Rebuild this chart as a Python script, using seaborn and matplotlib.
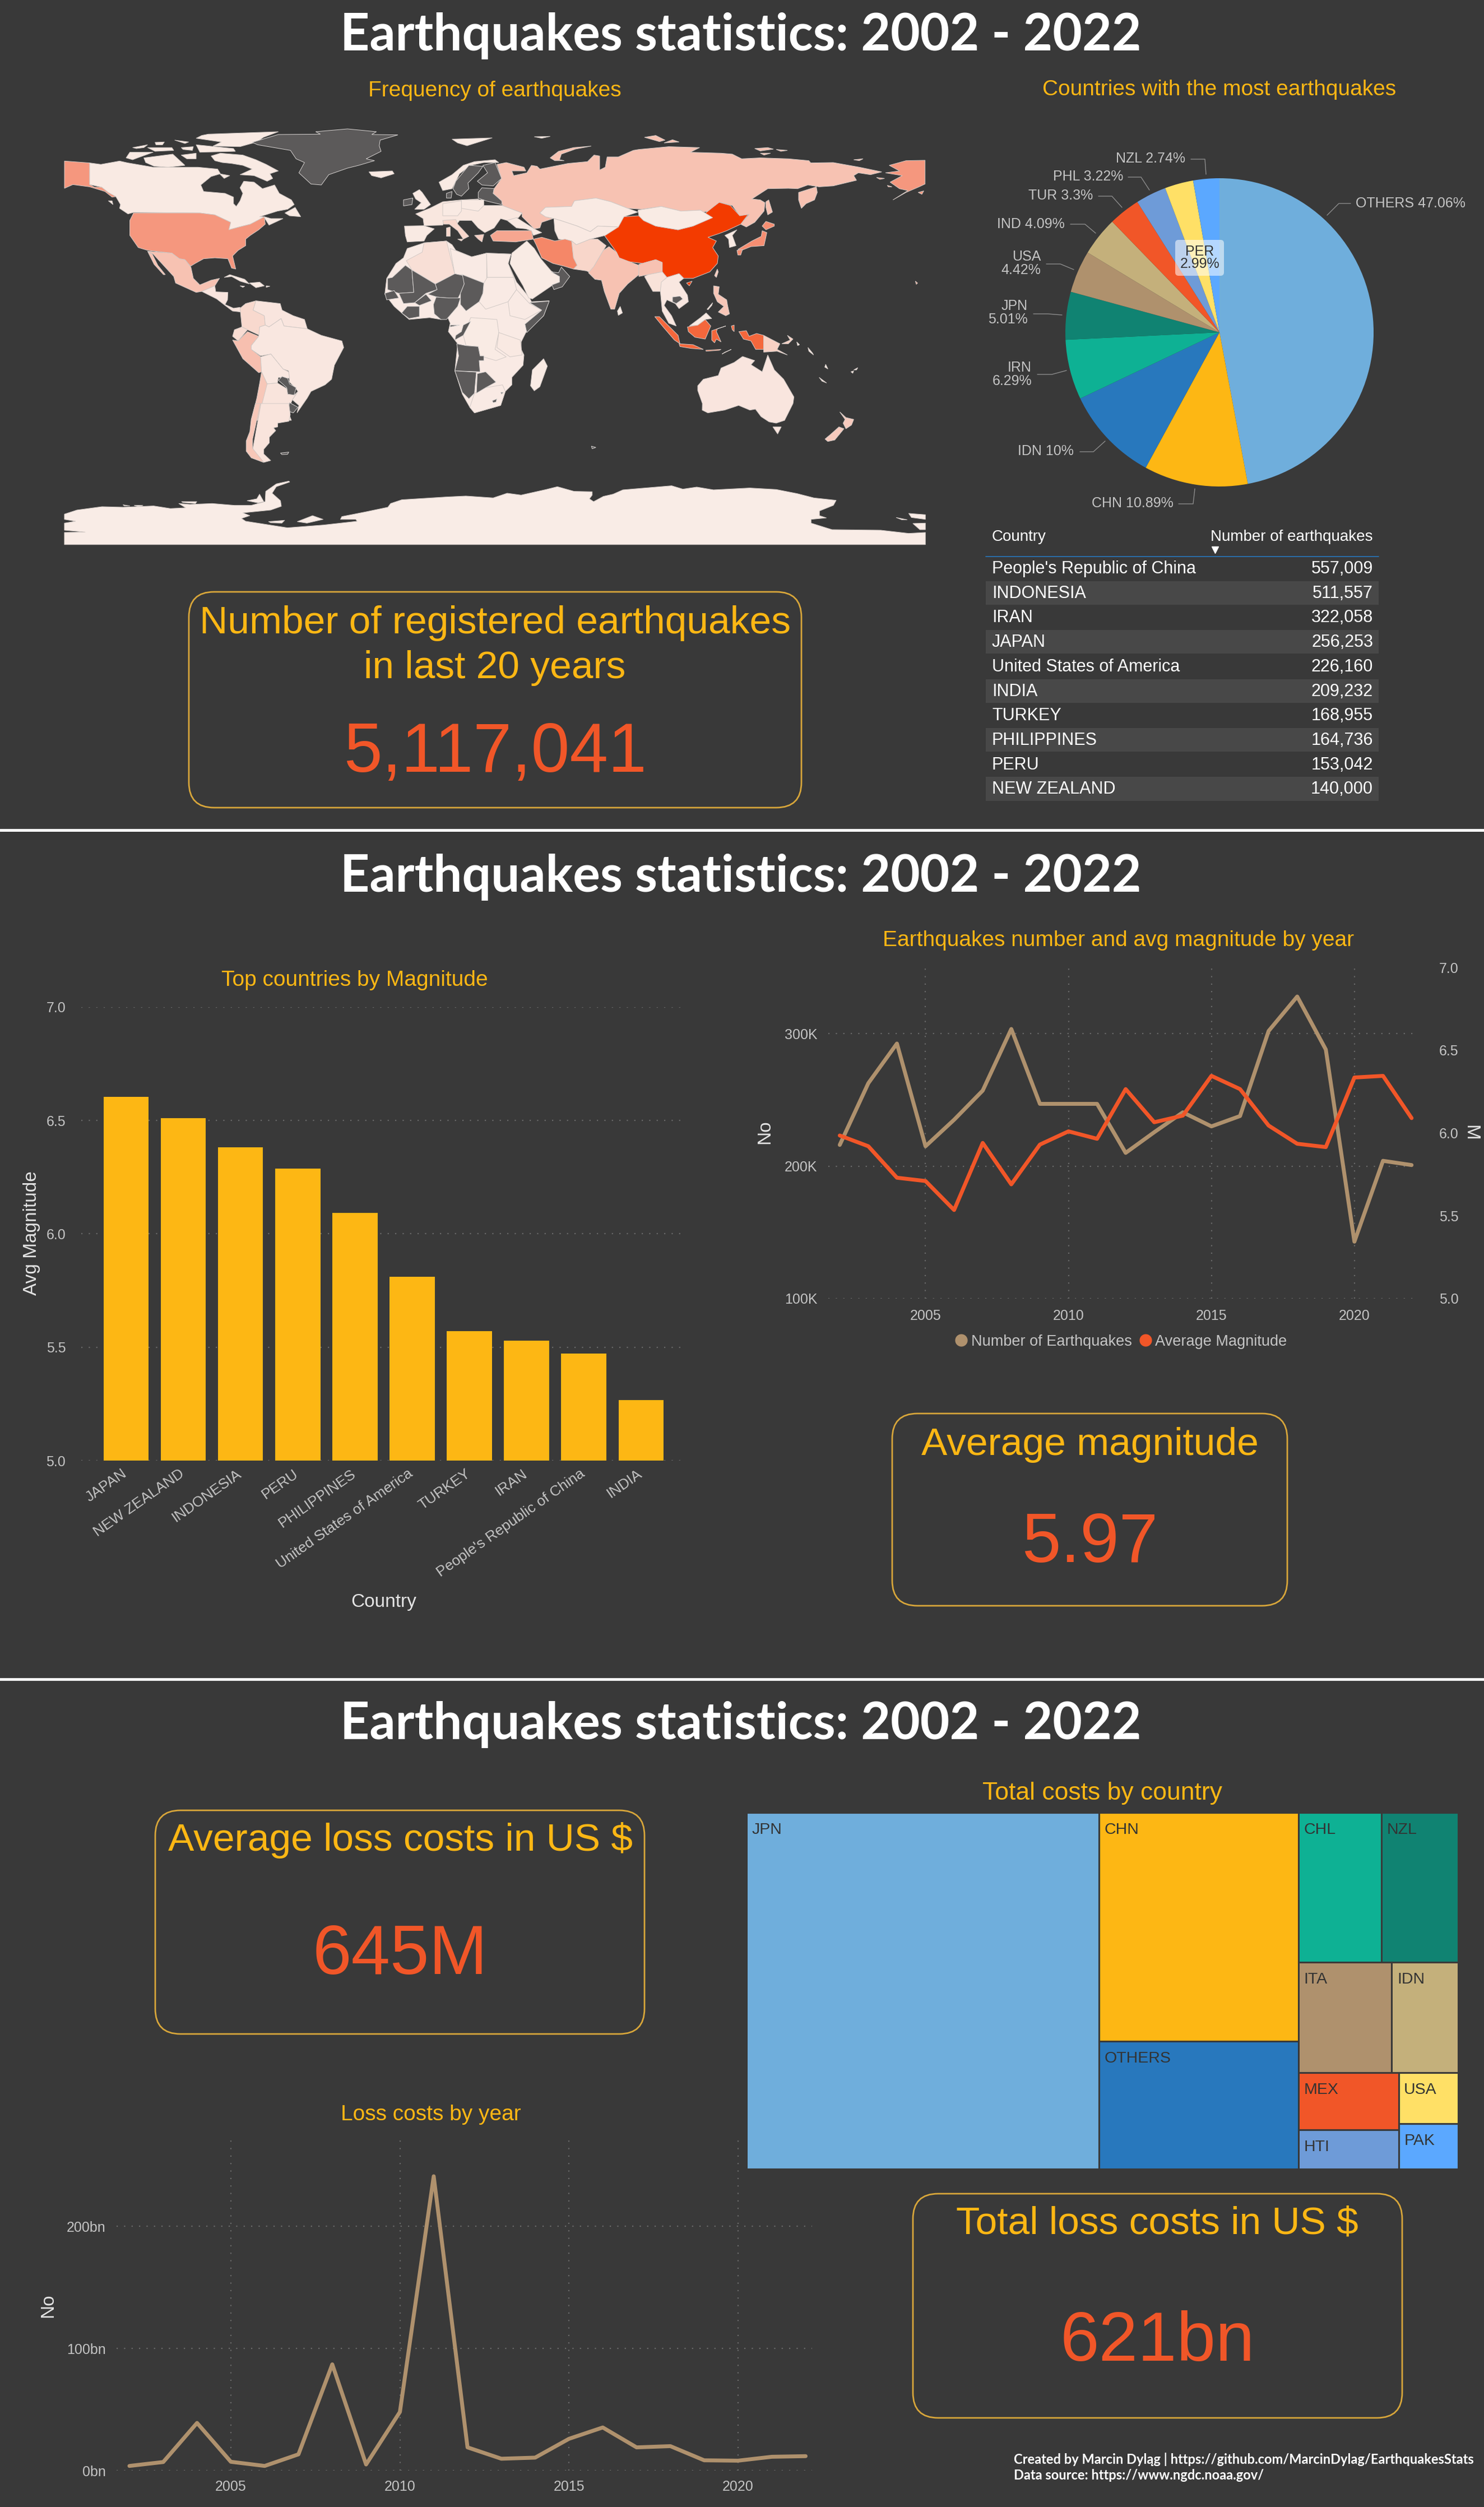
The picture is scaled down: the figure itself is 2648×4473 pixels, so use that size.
import matplotlib
matplotlib.use("Agg")
import matplotlib.pyplot as plt
from matplotlib.colors import Normalize
from matplotlib.lines import Line2D
from matplotlib.patches import FancyBboxPatch, Rectangle
from matplotlib.transforms import ScaledTranslation
import pandas as pd
import seaborn as sns

W, H = 2648, 4473
BG = "#393939"
YELLOW = "#FDB714"
ORANGE = "#F15628"
TAN = "#AF916D"
TICK = "#c4c4c4"

# --- data ---
years = list(range(2002, 2023))
quake_counts = [216000, 262600, 292500, 215000, 235000, 257000, 303500, 247000, 247000, 247000, 210000,
                225600, 240600, 230000, 237800, 302000, 328000, 288000, 143000, 204000, 200800]
avg_magnitude = [5.985, 5.92, 5.73, 5.71, 5.535, 5.94, 5.69, 5.93, 6.01, 5.965, 6.265,
                 6.065, 6.105, 6.345, 6.265, 6.045, 5.935, 5.915, 6.335, 6.345, 6.09]
loss_bn = [3.8, 7, 39, 7.2, 3.8, 13.3, 87, 5, 48, 241, 19, 9.7, 10.6, 26, 35.3, 19, 20, 8.4, 8.1, 11.3, 11.8]

mag_countries = ["JAPAN", "NEW ZEALAND", "INDONESIA", "PERU", "PHILIPPINES", "United States of America",
                 "TURKEY", "IRAN", "People's Republic of China", "INDIA"]
mag_values = [6.604, 6.51, 6.383, 6.287, 6.092, 5.812, 5.571, 5.528, 5.471, 5.268]

pie_shares = [47.06, 10.89, 10, 6.29, 5.01, 4.42, 4.09, 3.3, 3.22, 2.99, 2.74]
pie_colors = ["#6FAEDC", "#FDB714", "#2878BD", "#0EB194", "#108372", "#AF916D",
              "#C4B07B", "#F15628", "#6E9BD8", "#FFE066", "#5BA8FF"]

table_countries = ["People's Republic of China", "INDONESIA", "IRAN", "JAPAN", "United States of America",
                   "INDIA", "TURKEY", "PHILIPPINES", "PERU", "NEW ZEALAND"]
table_counts = ["557,009", "511,557", "322,058", "256,253", "226,160", "209,232", "168,955", "164,736",
                "153,042", "140,000"]

# treemap, bn US$, grouped the way the picture nests them
tree_groups = [
    [("JPN", 307.4, "#6FAEDC")],
    [("CHN", 111.7, "#FDB714"), ("OTHERS", 62.4, "#2878BD")],
    [[("CHL", 30.6, "#0EB194"), ("NZL", 28.1, "#108372")],
     [("ITA", 25.2, "#AF916D"), ("IDN", 17.9, "#C4B07B")],
     [[("MEX", 14.1, "#F15628"), ("HTI", 9.6, "#6E9BD8")],
      [("USA", 7.5, "#FFE066"), ("PAK", 6.6, "#5BA8FF")]]],
]

map_crops = {"A": (100, 230, 3, 3), "B": (620, 230, 3, 3), "C": (1140, 230, 3, 3), "D": (100, 720, 2.01, 3)}

# (crop, quakes in thousands as the map shade shows them, None = no data, outline)
shapes_americas = [
    ("A", 270, [(45,172),(180,182),(180,298),(205,312),(245,312),(280,340),(322,362),(300,365),(262,335),(230,325),(180,310),(90,298),(45,318)]),
    ("A", 12, [(180,182),(240,190),(340,172),(385,182),(520,205),(760,205),(865,215),(880,240),(830,255),(775,300),(790,335),(905,345),(950,365),(950,400),(965,415),(985,385),(1000,345),(985,315),(1005,280),(1060,285),(1105,320),(1170,300),(1195,345),(1260,380),(1275,405),(1240,430),(1185,440),(1090,470),(1115,470),(1150,480),(1215,480),(1140,515),(1115,475),(1040,510),(980,525),(925,540),(935,500),(850,460),(770,450),(415,447),(385,455),(340,425),(345,405),(320,362),(280,340),(245,312),(180,298)]),
    ("A", 12, [(815,28),(1190,15),(1110,45),(1075,70),(985,95),(840,92),(885,70),(750,50),(780,35)]),
    ("A", 12, [(830,145),(880,130),(1000,140),(1070,165),(1125,190),(1190,225),(1145,240),(1160,265),(1130,280),(1060,250),(985,245),(1050,215),(1000,195),(940,185),(890,180),(850,170)]),
    ("A", 12, [(470,155),(625,135),(690,195),(600,205),(525,200),(480,180)]),
    ("A", 12, [(375,155),(395,125),(520,125),(450,150),(410,165)]),
    ("A", 12, [(490,100),(620,100),(630,115),(530,120)]),
    ("A", 12, [(410,100),(490,85),(470,100),(430,105)]),
    ("A", 12, [(530,72),(580,70),(570,85),(535,85)]),
    ("A", 12, [(635,60),(710,70),(690,78)]),
    ("A", 12, [(670,100),(735,95),(730,115),(680,110)]),
    ("A", 12, [(670,140),(750,130),(750,160),(700,160)]),
    ("A", 12, [(750,85),(950,105),(960,120),(770,125)]),
    ("A", 12, [(875,240),(930,250),(900,265)]),
    ("A", 12, [(280,385),(300,385),(305,405)]),
    ("A", 12, [(1225,450),(1280,420),(1310,470),(1250,465)]),
    ("A", 270, [(415,450),(770,450),(850,460),(935,500),(925,540),(980,525),(1040,510),(1115,470),(1120,510),(1085,540),(1040,570),(1015,590),(1015,625),(975,650),(945,680),(962,750),(940,745),(920,695),(850,690),(790,695),(745,720),(720,735),(690,700),(660,695),(620,665),(490,650),(440,635),(395,570),(395,490)]),
    ("A", 135, [(490,655),(620,665),(660,695),(690,700),(722,740),(735,800),(770,835),(830,810),(875,800),(850,840),(815,855),(780,870),(750,875),(640,825),(630,790),(575,730),(520,670)]),
    ("A", 135, [(490,655),(515,670),(545,730),(585,780),(575,780),(525,725)]),
    ("A", 25, [(780,870),(815,855),(850,840),(855,872),(920,875),(918,915),(905,940),(950,960),(985,955),(990,980),(945,975),(905,945),(860,910),(810,885)]),
    ("A", 12, [(900,795),(930,780),(1010,805),(1035,830),(985,815),(940,790)]),
    ("A", 12, [(1035,825),(1090,820),(1115,840),(1070,850)]),
    ("A", 12, [(1125,840),(1145,842),(1125,848)]),
    ("A", 12, [(985,840),(1010,842),(1000,848)]),
    ("A", 65, [(985,960),(1015,935),(1070,920),(1055,970),(1115,1000),(1120,1050),(1090,1060),(1090,1105),(1025,1075),(995,1060)]),
    ("A", 25, [(1070,920),(1200,935),(1210,970),(1270,1000),(1330,1020),(1345,1070),(1220,1055),(1205,1015),(1140,1060),(1120,1050),(1115,1000),(1055,970)]),
    ("A", 55, [(995,1060),(1025,1075),(975,1135),(945,1110),(955,1075)]),
    ("A", 145, [(945,1130),(975,1135),(1025,1085),(1085,1110),(1045,1160),(1045,1180),(1095,1220),(1100,1300),(1085,1305),(1000,1230)]),
    ("A", 18, [(1090,1060),(1120,1050),(1140,1060),(1205,1015),(1220,1055),(1345,1070),(1420,1105),(1530,1135),(1540,1170),(1490,1265),(1475,1340),(1440,1370),(1365,1405),(1345,1440),(1290,1520),(1300,1480),(1265,1450),(1295,1405),(1280,1385),(1250,1355),(1245,1295),(1215,1285),(1150,1205),(1095,1215),(1045,1180),(1045,1160),(1085,1110)]),
    ("A", 18, [(1095,1220),(1150,1205),(1215,1285),(1245,1300),(1250,1335),(1190,1330),(1185,1360),(1130,1365),(1100,1300)]),
    ("A", None, [(1190,1345),(1210,1325),(1240,1335),(1250,1365),(1285,1385),(1275,1425),(1240,1420),(1235,1385)]),
    ("A", 30, [(1130,1365),(1185,1360),(1235,1390),(1240,1420),(1275,1425),(1295,1405),(1265,1450),(1240,1510),(1260,1560),(1080,1560),(1115,1370)]),
    ("A", None, [(1250,1465),(1295,1490),(1270,1520),(1240,1510)]),
    ("A", 120, [(1100,1300),(1130,1365),(1080,1560),(1045,1560),(1075,1440),(1090,1360)]),
    ("D", 30, [(735,0),(835,0),(840,60),(835,95),(795,105),(795,125),(780,130),(788,145),(765,180),(765,210),(745,245),(745,270),(770,305),(745,315),(700,290)]),
    ("D", 120, [(715,0),(733,0),(705,190),(705,240),(745,315),(700,290),(682,255),(682,200),(695,150),(700,85)]),
    ("D", None, [(805,265),(835,260),(830,272),(810,273)]),
    ("A", None, [(1050,72),(1190,30),(1415,28),(1390,15),(1560,0),(1715,15),(1690,30),(1830,32),(1735,60),(1730,90),(1740,120),(1660,160),(1705,170),(1620,195),(1560,210),(1460,245),(1420,300),(1365,295),(1300,235),(1330,180),(1285,160),(1255,115),(1080,85)]),
]

shapes_europe = [
    ("B", 12, [(115,230),(240,225),(250,240),(180,262),(130,250)]),
    ("B", 8, [(560,55),(775,48),(640,90),(590,75)]),
    ("B", 8, [(1000,42),(1085,40),(1040,50)]),
    ("B", 135, [(1085,155),(1130,120),(1210,100),(1305,92),(1220,108),(1145,135),(1135,165),(1160,170),(1110,170)]),
    ("B", 12, [(490,285),(560,245),(620,195),(680,175),(790,165),(810,180),(730,180),(660,195),(600,240),(560,320),(510,330)]),
    ("B", None, [(580,280),(650,195),(725,200),(700,235),(645,290),(650,320),(610,360),(585,350),(565,320)]),
    ("B", None, [(725,195),(790,180),(825,265),(780,305),(720,300),(695,280),(750,235)]),
    ("B", None, [(720,315),(785,320),(780,345),(830,385),(825,405),(740,385),(700,370),(700,340)]),
    ("B", None, [(530,345),(560,335),(555,370),(530,370)]),
    ("B", 12, [(350,345),(385,325),(400,340),(445,405),(410,430),(360,430),(395,395),(365,375)]),
    ("B", None, [(300,380),(350,370),(345,405),(300,412)]),
    ("B", 12, [(305,520),(410,518),(465,535),(425,570),(410,600),(320,605),(310,570)]),
    ("B", 20, [(365,455),(440,425),(510,390),(610,380),(700,375),(730,410),(830,410),(935,450),(915,475),(855,490),(820,480),(785,530),(735,555),(700,530),(665,490),(600,490),(585,510),(520,490),(510,515),(410,518),(405,480)]),
    ("B", 12, [(610,380),(730,380),(730,410),(700,440),(610,425)]),
    ("B", 12, [(510,400),(610,385),(610,440),(590,465),(510,465)]),
    ("B", 70, [(510,490),(580,485),(590,510),(650,575),(620,590),(590,545),(545,510),(515,510)]),
    ("B", 70, [(590,590),(620,590),(610,600)]),
    ("B", 70, [(530,530),(550,525),(550,575),(530,575)]),
    ("B", 95, [(680,570),(730,565),(720,605),(700,590)]),
    ("B", 225, [(765,570),(800,545),(985,545),(995,590),(900,605),(780,600)]),
    ("B", 15, [(855,490),(905,475),(1000,535),(1040,555),(995,570),(985,545),(955,535),(905,530)]),
    ("B", 135, [(800,190),(850,180),(945,205),(955,225),(880,225),(890,250),(960,235),(985,195),(1015,200),(1030,215),(1180,185),(1285,175),(1320,140),(1350,145),(1350,220),(1380,205),(1390,150),(1450,150),(1530,115),(1560,110),(1720,95),(1885,100),(1835,125),(2000,130),(2060,135),(2110,160),(2210,155),(2360,160),(2470,170),(2480,182),(2600,180),(2740,205),(2860,230),(2800,245),(2735,235),(2710,250),(2725,275),(2600,305),(2525,310),(2465,300),(2410,320),(2360,318),(2250,320),(2165,375),(2210,380),(2235,395),(2230,440),(2180,500),(2135,525),(2105,510),(2150,458),(2100,465),(2060,410),(1995,393),(1960,415),(1940,440),(1905,445),(1890,435),(1785,440),(1680,415),(1575,430),(1500,425),(1410,390),(1330,370),(1215,385),(1200,415),(1060,420),(1030,450),(1060,470),(1100,480),(1040,500),(1030,530),(1000,535),(935,470),(935,450),(830,410),(825,385),(780,345),(785,320),(825,265)]),
]

shapes_asia = [
    ("C", 135, [(855,340),(950,310),(955,340),(940,380),(895,400),(870,425),(855,380)]),
    ("C", 135, [(680,390),(695,380),(715,445),(690,460),(680,420)]),
    ("C", 300, [(660,520),(680,495),(725,510),(725,520),(680,540)]),
    ("C", 300, [(530,645),(605,600),(655,575),(660,545),(685,555),(670,625),(600,630),(550,650)]),
    ("C", 300, [(525,650),(555,645),(545,675),(530,675)]),
    ("C", 12, [(460,570),(525,540),(500,570),(520,625),(485,635),(480,590)]),
    ("C", 100, [(405,785),(420,750),(425,765),(415,795)]),
    ("C", 557, [(0,465),(25,490),(90,520),(210,540),(290,520),(390,475),(345,460),(395,420),(430,393),(490,410),(540,465),(585,458),(545,510),(470,545),(430,560),(370,580),(415,600),(395,635),(425,680),(420,720),(380,765),(290,800),(240,800),(215,775),(150,795),(125,765),(125,715),(90,700),(20,720),(-100,705),(-120,660),(-185,570),(-80,470)]),
    ("C", 557, [(255,825),(285,815),(270,840)]),
    ("C", 8, [(-5,435),(120,415),(225,440),(330,435),(395,475),(290,520),(210,540),(90,520),(25,490),(0,465)]),
    ("B", 12, [(1030,450),(1060,420),(1200,415),(1215,385),(1330,370),(1410,390),(1500,425),(1555,445),(1480,470),(1450,525),(1340,520),(1300,550),(1230,520),(1140,490),(1105,480),(1060,470)]),
    ("B", 15, [(1105,480),(1140,490),(1230,520),(1300,550),(1340,520),(1450,525),(1380,570),(1300,590),(1225,620),(1200,600),(1130,590),(1110,545)]),
    ("B", 320, [(995,590),(1040,580),(1110,600),(1165,590),(1200,600),(1210,690),(1230,730),(1210,750),(1160,735),(1100,720),(1040,690),(1010,620)]),
    ("B", 75, [(1200,600),(1225,620),(1300,590),(1340,590),(1385,625),(1370,650),(1320,735),(1320,780),(1280,760),(1210,750),(1230,730),(1210,690)]),
    ("B", 135, [(1320,735),(1370,650),(1400,630),(1440,660),(1455,690),(1560,730),(1560,780),(1500,830),(1455,880),(1430,965),(1410,965),(1375,870),(1360,810),(1325,805),(1290,770)]),
    ("C", 135, [(0,725),(90,700),(125,715),(125,765),(50,780),(0,790)]),
    ("C", 35, [(50,780),(125,765),(150,795),(120,830),(115,870),(75,870),(30,790)]),
    ("C", 18, [(120,820),(150,795),(215,775),(240,800),(215,820),(260,890),(265,925),(215,962),(195,935),(150,915),(135,945),(175,1000),(200,1055),(160,1040),(125,975),(115,870)]),
    ("C", None, [(180,900),(220,895),(235,910),(200,935),(180,925)]),
    ("B", 5, [(1445,975),(1460,950),(1472,985),(1450,998)]),
    ("B", 8, [(880,665),(960,600),(1000,640),(1035,695),(1090,760),(1135,790),(1135,820),(1100,835),(990,910),(970,905),(940,840),(870,720)]),
    ("B", None, [(1090,765),(1130,770),(1145,740),(1190,790),(1150,845),(1105,860),(1095,835),(1135,820),(1135,790)]),
    ("C", 125, [(400,840),(430,845),(425,885),(470,915),(475,945),(485,990),(465,1000),(425,980),(455,950),(420,925),(400,880)]),
    ("C", 12, [(365,965),(395,930),(390,945),(370,968)]),
    ("C", 420, [(85,1005),(110,1005),(210,1105),(220,1150),(190,1130),(130,1060)]),
    ("C", 420, [(215,1150),(290,1155),(345,1180),(280,1175),(220,1165)]),
    ("C", 420, [(358,1185),(440,1180),(430,1185),(360,1190)]),
    ("C", 420, [(445,1205),(495,1180),(460,1195)]),
    ("C", 420, [(260,1060),(315,1050),(355,1020),(385,1055),(355,1125),(300,1115),(265,1085)]),
    ("C", 12, [(270,1055),(330,1010),(360,985),(390,1015),(355,1020),(315,1050)]),
    ("C", 420, [(390,1080),(465,1055),(420,1070),(415,1085),(440,1140),(415,1125),(405,1145),(390,1130)]),
    ("C", 420, [(495,1055),(510,1050),(510,1085),(500,1075)]),
    ("C", 420, [(535,1085),(575,1080),(590,1110),(630,1095),(668,1105),(668,1180),(625,1180),(600,1135),(560,1125)]),
    ("C", 90, [(668,1105),(755,1150),(740,1180),(795,1210),(740,1190),(668,1195)]),
    ("C", 90, [(765,1150),(810,1130),(795,1105),(825,1125),(800,1150)]),
    ("C", 8, [(845,1140),(860,1155),(850,1160)]),
    ("C", 8, [(905,1170),(930,1200),(935,1210),(910,1190)]),
    ("C", 8, [(1000,1260),(1012,1285),(995,1275)]),
    ("C", 8, [(965,1330),(1005,1360),(980,1350)]),
    ("C", 8, [(1135,1300),(1150,1295),(1145,1308)]),
    ("C", 8, [(1150,1290),(1172,1278),(1165,1290)]),
    ("C", 270, [(1480,815),(1492,825),(1485,832)]),
    ("C", 270, [(1340,195),(1430,170),(1532,168),(1532,295),(1500,310),(1430,340),(1360,380),(1440,330),(1395,320),(1345,285),(1410,250),(1320,235),(1395,225)]),
    ("C", 135, [(30,45),(90,35),(140,60),(110,68)]),
    ("C", 135, [(135,75),(180,58),(215,70)]),
    ("C", 135, [(620,105),(690,100),(720,108),(650,118)]),
    ("C", 135, [(735,110),(795,115),(760,120)]),
    ("C", 135, [(650,130),(705,130),(670,140)]),
    ("C", 135, [(1150,165),(1200,160),(1180,170)]),
    ("C", 270, [(1272,260),(1315,265),(1290,270)]),
    ("C", 270, [(1330,302),(1355,310),(1335,310)]),
    ("C", 270, [(1495,340),(1525,332),(1515,350)]),
    ("C", 25, [(315,1375),(345,1340),(425,1320),(440,1280),(510,1250),(555,1218),(620,1240),(600,1262),(660,1300),(690,1210),(725,1290),(775,1340),(830,1435),(825,1470),(780,1560),(735,1575),(697,1568),(654,1540),(624,1500),(594,1505),(534,1480),(459,1505),(369,1520),(339,1505),(340,1470),(315,1400)]),
    ("D", 25, [(2571,125),(2601,125),(2588,163)]),
    ("D", 110, [(2811,45),(2833,75),(2861,85),(2853,115),(2833,135),(2823,105),(2830,85)]),
    ("D", 110, [(2808,125),(2826,135),(2793,195),(2768,203),(2758,190),(2778,165)]),
    ("D", None, [(1920,228),(1936,235),(1923,242)]),
]

shapes_africa = [
    ("B", 10, [(300,690),(320,640),(365,625),(410,610),(530,600),(560,620),(580,650),(665,685),(745,665),(875,670),(860,720),(905,820),(975,905),(985,925),(1080,920),(1050,1000),(955,1090),(930,1140),(930,1180),(945,1210),(940,1265),(880,1330),(880,1370),(845,1405),(820,1480),(680,1520),(655,1490),(615,1420),(575,1295),(590,1150),(540,1085),(550,1040),(535,1005),(500,1020),(440,1010),(330,1020),(250,950),(200,885),(210,800),(260,720)]),
    ("B", 10, [(550,640),(665,685),(745,665),(745,820),(730,825),(615,780),(575,780)]),
    ("B", 10, [(745,665),(875,670),(860,720),(890,795),(748,795)]),
    ("B", 10, [(730,825),(748,795),(890,795),(905,860),(860,925),(740,965),(705,925),(725,880)]),
    ("B", 10, [(905,860),(975,935),(1040,970),(950,1020),(870,1000),(860,925)]),
    ("B", 8, [(660,1010),(800,1020),(810,1090),(790,1180),(850,1220),(795,1240),(710,1215),(700,1165),(635,1160),(620,1105)]),
    ("B", 14, [(810,1090),(925,1130),(935,1210),(870,1220),(800,1170)]),
    ("B", 10, [(680,1415),(740,1385),(830,1370),(845,1405),(820,1480),(680,1520),(655,1490)]),
    ("B", 45, [(315,705),(400,660),(410,610),(530,600),(550,680),(575,780),(470,830),(345,755)]),
    ("B", None, [(215,800),(240,795),(310,730),(345,755),(355,875),(275,880),(215,860)]),
    ("B", None, [(345,755),(470,830),(480,860),(420,880),(360,930),(300,935),(275,880),(355,875)]),
    ("B", None, [(470,830),(575,775),(620,785),(625,830),(605,880),(590,910),(480,900),(430,885),(480,860)]),
    ("B", None, [(615,780),(730,825),(725,880),(705,925),(635,975),(605,940),(605,880),(625,830)]),
    ("B", None, [(475,900),(540,905),(605,905),(590,950),(530,1020),(500,1020),(465,990),(460,940)]),
    ("B", None, [(360,930),(420,885),(450,920),(385,945)]),
    ("B", None, [(320,950),(385,950),(385,1005),(330,1015),(290,985)]),
    ("B", None, [(200,880),(250,865),(275,905),(210,915)]),
    ("B", None, [(975,930),(1080,922),(1050,1000),(960,1090),(950,1045),(1040,970)]),
    ("B", None, [(550,1050),(600,1050),(550,1060)]),
    ("B", None, [(620,1050),(660,1030),(620,1105),(575,1130),(580,1105),(610,1085)]),
    ("B", None, [(585,1150),(635,1160),(700,1165),(710,1215),(730,1215),(730,1240),(705,1240),(710,1300),(575,1295),(595,1215)]),
    ("B", None, [(575,1295),(690,1302),(680,1415),(650,1445),(615,1410)]),
    ("B", None, [(695,1310),(740,1300),(795,1355),(740,1385),(690,1415)]),
    ("B", None, [(775,1455),(800,1445),(795,1462),(780,1465)]),
    ("B", None, [(820,1410),(835,1410),(825,1420)]),
    ("B", 8, [(1050,1230),(1070,1270),(1030,1380),(1000,1402),(980,1375),(990,1290)]),
]

shapes_antarctica = [
    ("D", 4, [(30,592),(75,570),(165,552),(240,555),(350,548),(410,562),(465,558),(440,535),(480,540),(560,535),(640,545),(700,545),(750,525),(752,470),(790,430),(835,415),(838,420),(790,445),(775,480),(805,520),(808,550),(770,570),(670,585),(695,600),(665,615),(680,630),(830,665),(960,650),(1080,630),(1075,620),(1020,620),(1025,605),(1110,580),(1190,555),(1200,535),(1240,515),(1400,500),(1470,495),(1568,505),(1618,480),(1668,490),(1758,460),(1798,445),(1858,470),(1923,472),(1923,490),(1913,510),(1928,525),(1963,497),(1998,485),(2033,462),(2208,440),(2248,458),(2298,447),(2358,462),(2488,452),(2583,460),(2658,482),(2718,505),(2798,518),(2788,545),(2738,575),(2738,600),(2763,612),(2708,620),(2708,640),(2783,675),(2958,678),(3058,695),(3118,690),(3118,755),(30,755),(30,690),(105,688),(30,678),(30,640),(70,630),(30,620)]),
    ("D", 4, [(450,525),(505,525),(500,535),(455,530)]),
    ("D", 4, [(240,542),(265,548),(245,548)]),
    ("D", 4, [(280,545),(312,545),(295,552)]),
    ("D", 4, [(685,520),(720,510),(730,485),(745,525),(725,532)]),
    ("D", 4, [(762,632),(820,625),(810,640),(770,638)]),
    ("D", 4, [(865,632),(920,600),(958,620),(900,640)]),
    ("D", 4, [(3013,610),(3053,622),(3033,622)]),
    ("D", 4, [(3058,588),(3118,595),(3118,620),(3068,610)]),
    ("D", 4, [(3073,642),(3118,640),(3118,675),(3098,675)]),
]

sns.set_theme(style="dark", rc={"axes.facecolor": "none", "figure.facecolor": BG, "savefig.facecolor": BG})
plt.rcParams["font.family"] = ["Liberation Sans", "DejaVu Sans"]
fig = plt.figure(figsize=(W / 100, H / 100), dpi=100)


def add_ax(x0, y0, x1, y1):
    # axes placed by picture pixels
    return fig.add_axes([x0 / W, 1 - y1 / H, (x1 - x0) / W, (y1 - y0) / H])


def style_chart(ax, gridx=False):
    for s in ax.spines.values():
        s.set_visible(False)
    ax.tick_params(length=0, colors=TICK, labelsize=18, pad=14)
    ax.grid(axis="y", linestyle=(0, (1, 5)), color="#6a6a6a", linewidth=1.6)
    if gridx:
        ax.grid(axis="x", linestyle=(0, (1, 5)), color="#6a6a6a", linewidth=1.6)
    else:
        ax.grid(False, axis="x")
    ax.set_axisbelow(True)
    ax.set_xlabel("")
    ax.set_ylabel("")


over = add_ax(0, 0, W, H)
over.set_xlim(0, W)
over.set_ylim(H, 0)
over.axis("off")
over.set_zorder(5)

for y in (1481, 2996):
    over.axhline(y, color="white", linewidth=3.6)
for y in (64, 1565, 3077):
    over.text(1322, y, "Earthquakes statistics: 2002 - 2022", color="white", fontsize=65.5, fontweight="bold",
              family=["Lato", "DejaVu Sans"], ha="center", va="center")

for x, y, txt, fs in [(883, 162, "Frequency of earthquakes", 28), (2176, 160, "Countries with the most earthquakes", 28),
                      (633, 1749, "Top countries by Magnitude", 28), (1996, 1678, "Earthquakes number and avg magnitude by year", 28),
                      (1967, 3199, "Total costs by country", 32), (769, 3773, "Loss costs by year", 28)]:
    over.text(x, y, txt, color=YELLOW, fontsize=fs, ha="center", va="center")

# KPI boxes
kpis = [((337, 1056, 1430, 1441), [("Number of registered earthquakes", 1112, 50), ("in last 20 years", 1192, 50)], ("5,117,041", 1345, 89), 883),
        ((1592, 2522, 2297, 2865), [("Average magnitude", 2578, 50)], ("5.97", 2755, 90), 1945),
        ((277, 3230, 1150, 3629), [("Average loss costs in US $", 3283, 50)], ("645M", 3490, 90), 714),
        ((1629, 3914, 2502, 4314), [("Total loss costs in US $", 3968, 50)], ("621bn", 4180, 90), 2065)]
for (x0, y0, x1, y1), heads, (val, vy, vfs), cx in kpis:
    over.add_patch(FancyBboxPatch((x0, y0), x1 - x0, y1 - y0, boxstyle="round,pad=0,rounding_size=45",
                                  fill=False, edgecolor="#D8A63A", linewidth=2))
    for txt, ty, fs in heads:
        over.text(cx, ty, txt, color=YELLOW, fontsize=fs, ha="center", va="center")
    over.text(cx, vy, val, color=ORANGE, fontsize=vfs, ha="center", va="center")

over.text(1809, 4388, "Created by Marcin Dyląg | https://github.com/MarcinDylag/EarthquakesStats", color="white",
          fontsize=17, fontweight="bold", family=["Lato", "DejaVu Sans"], va="center")
over.text(1809, 4416, "Data source: https://www.ngdc.noaa.gov/", color="white",
          fontsize=17, fontweight="bold", family=["Lato", "DejaVu Sans"], va="center")

# world map
map_ax = add_ax(100, 220, 1660, 980)
map_ax.set_xlim(100, 1660)
map_ax.set_ylim(980, 220)
map_ax.axis("off")
map_cmap = sns.blend_palette(["#F9EDE7", "#F5957B", "#F33B00"], as_cmap=True)
map_norm = Normalize(0, 557)
for crop, val, outline in shapes_americas + shapes_africa + shapes_europe + shapes_asia + shapes_antarctica:
    ox, oy, zoom_x, zoom_y = map_crops[crop]
    xs = [ox + p[0] / zoom_x for p in outline]
    ys = [oy + p[1] / zoom_y for p in outline]
    color = "#5C5A5A" if val is None else map_cmap(map_norm(val))
    edge = "#d8d4d2" if val is None else "#d2cac6"
    map_ax.fill(xs, ys, facecolor=color, edgecolor=edge, linewidth=0.7)

# pie
cx, cy, r = 2176, 593, 275
pie_ax = add_ax(cx - r, cy - r, cx + r, cy + r)
pie_ax.pie(pie_shares, colors=pie_colors, startangle=90, counterclock=False, radius=1,
           wedgeprops={"linewidth": 0})
pie_ax.set_xlim(-1, 1)
pie_ax.set_ylim(-1, 1)

pie_labels = [("OTHERS 47.06%", 2419, 363, "left"), ("CHN 10.89%", 2094, 898, "right"), ("IDN 10%", 1916, 805, "right"),
              ("IRN\n6.29%", 1841, 668, "right"), ("JPN\n5.01%", 1834, 558, "right"), ("USA\n4.42%", 1857, 470, "right"),
              ("IND 4.09%", 1900, 400, "right"), ("TUR 3.3%", 1950, 349, "right"), ("PHL 3.22%", 2004, 315, "right"),
              ("NZL 2.74%", 2115, 283, "right")]
leaders = [[(2368, 384), (2389, 363), (2410, 363)], [(2132, 872), (2129, 899), (2103, 899)], [(1972, 787), (1951, 806), (1927, 806)],
           [(1903, 661), (1877, 668), (1851, 668)], [(1895, 562), (1870, 560), (1844, 560)], [(1916, 481), (1892, 471), (1867, 471)],
           [(1955, 416), (1936, 400), (1910, 400)], [(2002, 370), (1984, 350), (1960, 350)], [(2051, 339), (2036, 316), (2013, 316)],
           [(2152, 311), (2150, 284), (2125, 284)]]
for (txt, x, y, ha), pts in zip(pie_labels, leaders):
    over.text(x, y, txt, color=TICK, fontsize=18, ha=ha, va="center", linespacing=1.0)
    over.plot(*zip(*pts), color="#8c8c8c", linewidth=1)
over.add_patch(FancyBboxPatch((2097, 428), 87, 64, boxstyle="round,pad=0,rounding_size=6", facecolor="white",
                              alpha=0.55, edgecolor="none"))
over.text(2141, 460, "PER\n2.99%", color="#333333", fontsize=18, ha="center", va="center", linespacing=0.85)

# table
row0, row_h = 1015, 43.7
over.text(1770, 958, "Country", color="white", fontsize=20, va="center")
over.text(2450, 958, "Number of earthquakes", color="white", fontsize=20, va="center", ha="right")
over.plot([2168], [981], marker="v", color="white", markersize=8)
over.plot([1759, 2460], [993, 993], color="#2878BD", linewidth=1.2)
for i, (country, count) in enumerate(zip(table_countries, table_counts)):
    y = row0 + i * row_h
    if i % 2:
        over.add_patch(Rectangle((1759, y - row_h / 2), 701, row_h - 1.5, facecolor="#484848", edgecolor="none", zorder=0))
    over.text(1770, y, country, color="white", fontsize=22, va="center")
    over.text(2450, y, count, color="white", fontsize=22, va="center", ha="right")

# bar chart
bar_ax = add_ax(145, 1797, 1223, 2606)
bar_df = pd.DataFrame({"country": mag_countries, "magnitude": mag_values})
sns.barplot(data=bar_df, x="country", y="magnitude", color=YELLOW, saturation=1, width=0.79, linewidth=0, ax=bar_ax, zorder=3)
bar_ax.set_xlim(-0.783, 9.775)
bar_ax.set_ylim(5, 7)
bar_ax.set_yticks([5, 5.5, 6, 6.5, 7])
style_chart(bar_ax)
bar_ax.tick_params(axis="x", pad=8)
bar_ax.tick_params(axis="y", pad=20)
shift = ScaledTranslation(-8 / 100, 0, fig.dpi_scale_trans)
for lab in bar_ax.get_xticklabels():
    lab.set(rotation=35, ha="right", rotation_mode="anchor", fontsize=19)
    lab.set_transform(lab.get_transform() + shift)
over.text(57, 2200, "Avg Magnitude", color="#e4e4e4", fontsize=24, rotation=90, ha="center", va="center")
over.text(685, 2858, "Country", color="#e4e4e4", fontsize=24, ha="center", va="center")

# number + magnitude
line_ax = add_ax(1478, 1726, 2529, 2317)
year_df = pd.DataFrame({"year": years, "count": quake_counts, "mag": avg_magnitude, "loss": loss_bn})
sns.lineplot(data=year_df, x="year", y="count", color=TAN, linewidth=5, ax=line_ax)
line_ax.set_xlim(2001.6, 2022.2)
line_ax.set_ylim(100000, 350000)
line_ax.set_yticks([100000, 200000, 300000], ["100K", "200K", "300K"])
line_ax.set_xticks([2005, 2010, 2015, 2020])
style_chart(line_ax, gridx=True)
mag_ax = line_ax.twinx()
sns.lineplot(data=year_df, x="year", y="mag", color=ORANGE, linewidth=5, ax=mag_ax)
mag_ax.set_ylim(5, 7)
mag_ax.set_yticks([5, 5.5, 6, 6.5, 7])
for s in mag_ax.spines.values():
    s.set_visible(False)
mag_ax.set_ylabel("")
mag_ax.set_xlabel("")
mag_ax.tick_params(length=0, colors=TICK, labelsize=18, pad=28)
mag_ax.grid(False)
over.text(1365, 2020, "No", color="#e4e4e4", fontsize=24, rotation=90, ha="center", va="center")
over.text(2624, 2021, "M", color="#e4e4e4", fontsize=24, rotation=270, ha="center", va="center")
handles = [Line2D([], [], marker="o", linestyle="", color=TAN, markersize=15),
           Line2D([], [], marker="o", linestyle="", color=ORANGE, markersize=15)]
line_ax.legend(handles, ["Number of Earthquakes", "Average Magnitude"], ncol=2, frameon=False, loc="center",
               bbox_to_anchor=(0.497, -0.13), fontsize=19.5, labelcolor=TICK, handlelength=0.8, handletextpad=0.25,
               columnspacing=0.5)

# loss by year
loss_ax = add_ax(208, 3818, 1449, 4408)
sns.lineplot(data=year_df, x="year", y="loss", color=TAN, linewidth=5, ax=loss_ax)
loss_ax.set_xlim(2001.62, 2022.19)
loss_ax.set_ylim(0, 270.8)
loss_ax.set_yticks([0, 100, 200], ["0bn", "100bn", "200bn"])
loss_ax.set_xticks([2005, 2010, 2015, 2020])
style_chart(loss_ax, gridx=True)
loss_ax.tick_params(axis="x", pad=12)
over.text(86, 4114, "No", color="#e4e4e4", fontsize=24, rotation=90, ha="center", va="center")

# treemap, rectangles come from the values
tree_ax = add_ax(1332, 3234, 2602, 3870)
tree_ax.set_xlim(0, 1)
tree_ax.set_ylim(1, 0)
tree_ax.axis("off")


def tree_total(node):
    if isinstance(node, tuple):
        return node[1]
    return sum(tree_total(n) for n in node)


def draw_tree(node, x, y, w, h, horizontal):
    if isinstance(node, tuple):
        label, _, color = node
        tree_ax.add_patch(Rectangle((x, y), w, h, facecolor=color, edgecolor=BG, linewidth=2.2))
        tree_ax.annotate(label, (x, y), xytext=(7, -13), textcoords="offset points", color="#333333",
                         fontsize=20.5, va="top")
        return
    total = tree_total(node)
    pos = 0
    for child in node:
        frac = tree_total(child) / total
        if horizontal:
            draw_tree(child, x + pos * w, y, frac * w, h, False)
        else:
            draw_tree(child, x, y + pos * h, w, frac * h, True)
        pos += frac


draw_tree(tree_groups, 0, 0, 1, 1, True)

fig.savefig("out.png", dpi=100, facecolor=BG)
